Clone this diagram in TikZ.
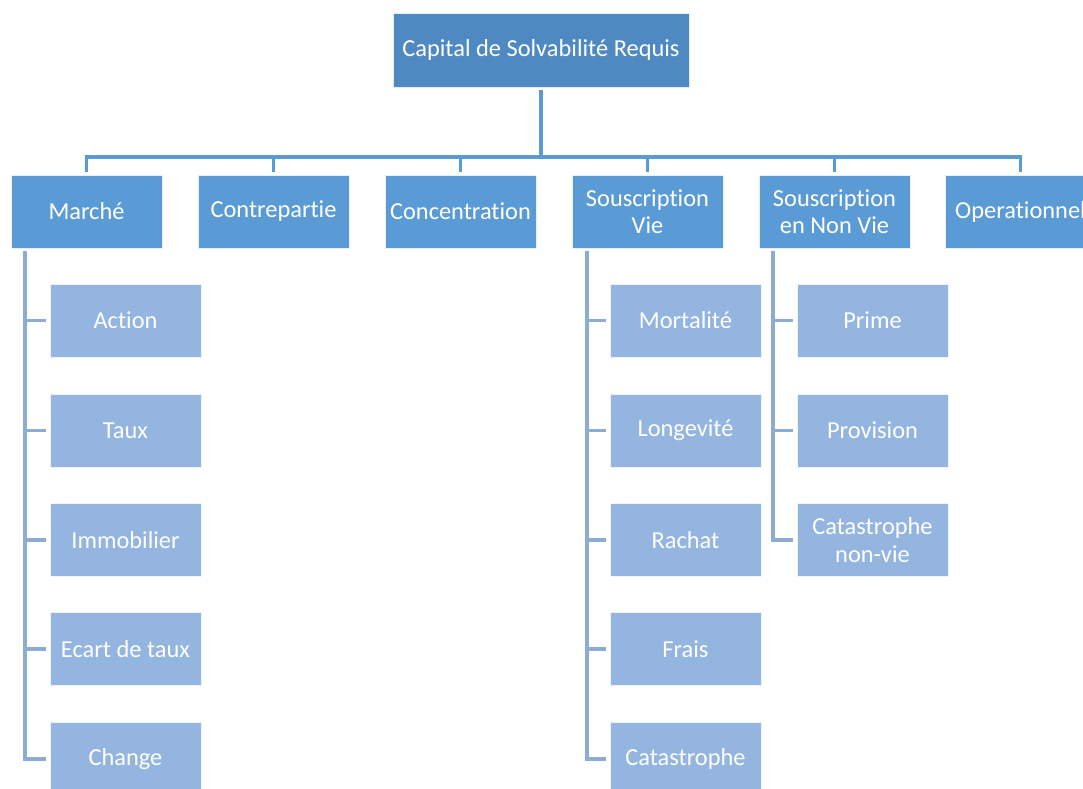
\documentclass[tikz,border=0pt]{standalone}
\usepackage{fontspec}
\setmainfont{Carlito}[Ligatures=NoCommon]
\begin{document}
\begin{tikzpicture}[x=0.75pt,y=-0.75pt,
  every node/.style={inner sep=2pt, align=center, font=\fontsize{18.3}{20.5}\selectfont, text=white},
  rootbox/.style={fill=rootblue, draw=white!85!rootblue, line width=0.6pt,
    minimum width=222pt, minimum height=55.5pt},
  catbox/.style={fill=catblue, draw=white!85!catblue, line width=0.6pt,
    minimum width=113.25pt, minimum height=54.75pt},
  subbox/.style={fill=subblue, draw=white!85!subblue, line width=0.6pt,
    minimum width=113.25pt, minimum height=54.75pt},
  link/.style={draw=catblue, line width=2.8pt},
  sublink/.style={draw=subblue!95!black, line width=2.8pt}]
\definecolor{rootblue}{HTML}{4F89C2}
\definecolor{catblue}{HTML}{5B9BD5}
\definecolor{subblue}{HTML}{93B5E0}
\useasboundingbox (0,0) rectangle (1083,789);
\begin{scope}
\clip (0,0) rectangle (1083,789);

% root
\node[rootbox] (root) at (541,50) {Capital de Solvabilité Requis};

% first level
\node[catbox] (marche) at (86.5,211.5) {Marché};
\node[catbox] (contre) at (273.5,211.5) {Contrepartie};
\node[catbox] (conc)   at (460.5,211.5) {Concentration};
\node[catbox] (vie)    at (647.5,211.5) {Souscription\\Vie};
\node[catbox] (nonvie) at (834.5,211.5) {Souscription\\en Non Vie};
\node[catbox] (oper)   at (1020.5,211.5) {Operationnel};

% bus
\coordinate (bus) at (541,157);
\draw[link] ([yshift=-2]root.south) -- (bus);
\draw[link, line cap=rect] (marche.north |- bus) -- (oper.north |- bus);
\foreach \n in {marche,contre,conc,vie,nonvie,oper}
  \draw[link] (\n.north |- bus) -- ([yshift=2]\n.north);

% Marché children
\node[subbox] (action) at (125.5,320.5) {Action};
\node[subbox] (taux)   at (125.5,430.5) {Taux};
\node[subbox] (immo)   at (125.5,540)   {Immobilier};
\node[subbox] (ecart)  at (125.5,649)   {Ecart de taux};
\node[subbox] (change) at (125.5,759)   {Change};

% Souscription Vie children
\node[subbox] (mort)  at (685.5,320.5) {Mortalité};
\node[subbox] (longe) at (685.5,430.5) {Longevité};
\node[subbox] (rach)  at (685.5,540)   {Rachat};
\node[subbox] (frais) at (685.5,649)   {Frais};
\node[subbox] (catv)  at (685.5,759)   {Catastrophe};

% Souscription Non Vie children
\node[subbox] (prime) at (872.5,320.5) {Prime};
\node[subbox] (prov)  at (872.5,430.5) {Provision};
\node[subbox] (catnv) at (872.5,540)   {Catastrophe\\non-vie};

% spines
\coordinate (sm) at (25,251);
\coordinate (sv) at (587,251);
\coordinate (sn) at (773,251);
\draw[sublink] (sm) |- ([xshift=-3]change.west);
\foreach \c in {action,taux,immo,ecart}
  \draw[sublink] (sm |- \c.west) -- ([xshift=-3]\c.west);
\draw[sublink] (sv) |- ([xshift=-3]catv.west);
\foreach \c in {mort,longe,rach,frais}
  \draw[sublink] (sv |- \c.west) -- ([xshift=-3]\c.west);
\draw[sublink] (sn) |- ([xshift=-3]catnv.west);
\foreach \c in {prime,prov}
  \draw[sublink] (sn |- \c.west) -- ([xshift=-3]\c.west);
\end{scope}
\end{tikzpicture}
\end{document}
